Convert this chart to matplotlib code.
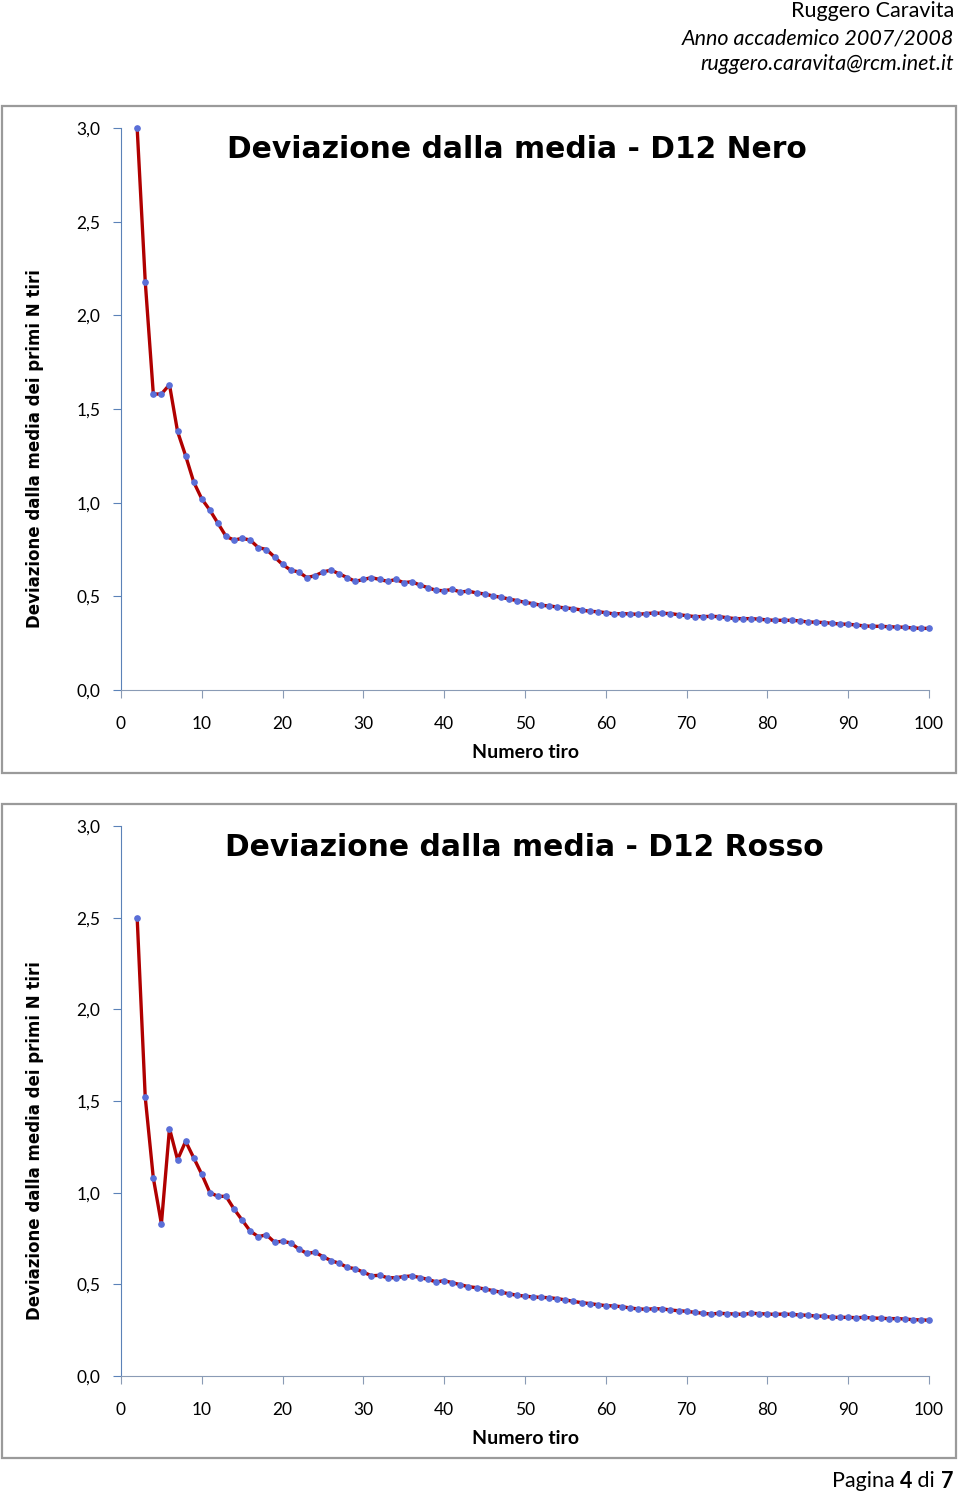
import numpy as np
import matplotlib
matplotlib.use("Agg")
import matplotlib.pyplot as plt
from matplotlib.patches import Rectangle
from matplotlib.ticker import FuncFormatter

# numero del tiro (da 2 a 100)
tiri = np.arange(2, 101)

# deviazione dalla media dei primi N tiri - dado D12 nero
nero = [3.00, 2.18, 1.58, 1.58, 1.63, 1.38, 1.25, 1.11, 1.02, 0.96,
        0.89, 0.82, 0.80, 0.81, 0.80, 0.76, 0.75, 0.71, 0.67, 0.64,
        0.63, 0.60, 0.61, 0.63, 0.64, 0.62, 0.60, 0.58, 0.59, 0.60,
        0.59, 0.58, 0.59,
        0.573, 0.578, 0.560, 0.546, 0.532, 0.530, 0.537, 0.523, 0.528, 0.518,
        0.513, 0.502, 0.495, 0.486, 0.477, 0.468, 0.461, 0.452, 0.449, 0.443,
        0.438, 0.434, 0.427, 0.420, 0.418, 0.413, 0.406, 0.408, 0.406, 0.404,
        0.408, 0.411, 0.409, 0.408, 0.402, 0.397, 0.392, 0.392, 0.393, 0.392,
        0.386, 0.381, 0.381, 0.381, 0.378, 0.374, 0.372, 0.372, 0.372, 0.369,
        0.363, 0.362, 0.360, 0.356, 0.352, 0.351, 0.347, 0.342, 0.340, 0.340,
        0.338, 0.336, 0.335, 0.331, 0.329, 0.329]

# deviazione dalla media dei primi N tiri - dado D12 rosso
rosso = [2.50, 1.52, 1.08, 0.83, 1.35, 1.18, 1.28, 1.19, 1.10, 1.00,
         0.98, 0.98, 0.91, 0.85, 0.79, 0.76, 0.77, 0.73, 0.735, 0.726,
         0.693, 0.669, 0.675, 0.651, 0.629, 0.615, 0.593, 0.585, 0.566, 0.547,
         0.549, 0.536, 0.536,
         0.542, 0.546, 0.537, 0.527, 0.513, 0.520, 0.509, 0.498, 0.487, 0.482,
         0.475, 0.466, 0.457, 0.449, 0.440, 0.436, 0.431, 0.429, 0.427, 0.422,
         0.415, 0.407, 0.400, 0.395, 0.389, 0.384, 0.382, 0.378, 0.371, 0.366,
         0.364, 0.367, 0.366, 0.360, 0.356, 0.353, 0.347, 0.342, 0.338, 0.342,
         0.340, 0.338, 0.336, 0.342, 0.340, 0.338, 0.336, 0.338, 0.336, 0.333,
         0.331, 0.327, 0.326, 0.320, 0.320, 0.320, 0.318, 0.320, 0.316, 0.315,
         0.313, 0.313, 0.311, 0.307, 0.306, 0.304]

titoli = ["Deviazione dalla media - D12 Nero", "Deviazione dalla media - D12 Rosso"]
etichetta_y = "Deviazione dalla media dei primi N tiri"
xticks = list(range(0, 101, 10))
yticks = [0.0, 0.5, 1.0, 1.5, 2.0, 2.5, 3.0]

W, H = 960, 1493
fig = plt.figure(figsize=(W / 100, H / 100), dpi=100)


def fx(x):
    return x / W


def fy(y):
    return 1 - y / H


# riquadri dei grafici (in pixel: sinistra, alto, destra, basso)
boxes = [(2, 106, 956, 773), (2, 804, 956, 1458)]
# aree dati (in pixel: alto = 3.0, basso = 0.0)
areas = [(128, 690), (826, 1376)]
title_pos = [(517, 150), (524, 848)]

comma = FuncFormatter(lambda v, p: ("%.1f" % v).replace(".", ","))

for i, serie in enumerate([nero, rosso]):
    l, t, r, b = boxes[i]
    fig.patches.append(Rectangle((fx(l), fy(b)), fx(r - l), (b - t) / H,
                                 transform=fig.transFigure, fill=False,
                                 edgecolor="#9a9a9a", lw=1.6))
    top, bot = areas[i]
    ax = fig.add_axes([fx(121), fy(bot), fx(929 - 121), (bot - top) / H])
    ax.plot(tiri, serie, color="#b00000", lw=2.4, marker="o", ms=3.8,
            mfc="#5a6fd8", mec="#5a6fd8", clip_on=False, zorder=3)
    ax.set_xlim(0, 100)
    ax.set_ylim(0, 3)
    ax.set_xticks(xticks)
    ax.set_yticks(yticks)
    ax.yaxis.set_major_formatter(comma)
    for s in ["top", "right"]:
        ax.spines[s].set_visible(False)
    ax.spines["left"].set_color("#5b82b8")
    ax.spines["bottom"].set_color("#8a9bb5")
    ax.tick_params(axis="y", direction="out", length=6, color="#5b82b8", pad=9)
    ax.tick_params(axis="x", direction="out", length=6, color="#8a9bb5", pad=13)
    for lab in ax.get_xticklabels() + ax.get_yticklabels():
        lab.set_family("Lato")
        lab.set_fontsize(12.5)
    ax.set_xlabel("Numero tiro", family="Lato", fontweight="bold", fontsize=14, labelpad=8)
    fig.text(fx(35), fy((top + bot) / 2 + 40), etichetta_y, rotation=90,
             ha="center", va="center", family="DejaVu Sans", fontweight="bold", fontsize=12)
    fig.text(fx(title_pos[i][0]), fy(title_pos[i][1]), titoli[i], ha="center", va="center",
             family="DejaVu Sans", fontweight="bold", fontsize=21.4)

# intestazione
fig.text(fx(954), fy(11), "Ruggero Caravita", ha="right", va="center", family="Lato", fontsize=15.5)
fig.text(fx(954), fy(38), "Anno accademico 2007/2008", ha="right", va="center", family="Lato",
         style="italic", fontsize=15.5)
fig.text(fx(954), fy(64), "ruggero.caravita@rcm.inet.it", ha="right", va="center", family="Lato",
         style="italic", fontsize=15.5)

# piè di pagina: "Pagina 4 di 7" con i numeri in grassetto
fig.canvas.draw()
ren = fig.canvas.get_renderer()
parts = [("7", "bold"), (" di ", "normal"), ("4", "bold"), ("Pagina ", "normal")]
xr = fx(953)
for txt, w in parts:
    t = fig.text(xr, fy(1481), txt, ha="right", va="center", family="Lato",
                 fontweight=w, fontsize=15.5)
    bb = t.get_window_extent(renderer=ren)
    xr -= bb.width / W

fig.savefig("out.png", dpi=100)
